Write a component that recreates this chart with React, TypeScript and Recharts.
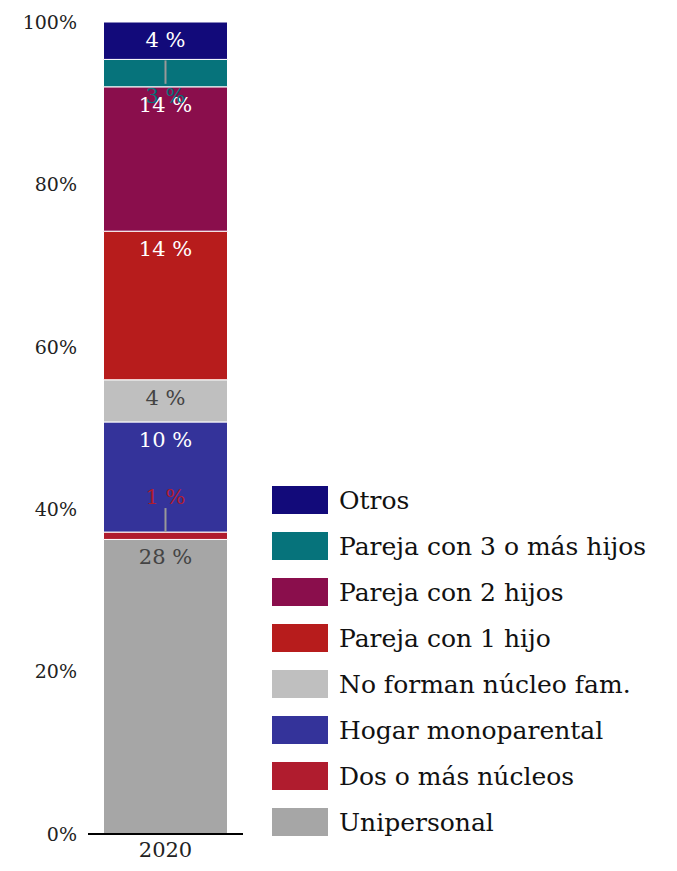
import { Bar, BarChart, XAxis, YAxis } from "recharts";

const categories = ["2020"];
const seriesNames = [
  "Unipersonal",
  "Dos o más núcleos",
  "Hogar monoparental",
  "No forman núcleo fam.",
  "Pareja con 1 hijo",
  "Pareja con 2 hijos",
  "Pareja con 3 o más hijos",
  "Otros",
];
// one value per category, per series (same order as seriesNames)
const values2020 = [27.95, 0.7, 10.45, 4.0, 14.1, 13.7, 2.6, 3.55];
const yTicks = [0, 0.2, 0.4, 0.6, 0.8, 1];

const colors = ["#a6a6a6", "#b01c2e", "#34339a", "#bfbfbf", "#b71c1c", "#8a0e4c", "#06737b", "#120a7a"];
const labelColors = ["#444444", "#b01c2e", "#ffffff", "#444444", "#ffffff", "#ffffff", "#06737b", "#ffffff"];
const labelModes = ["top", "above", "top", "top", "top", "top", "below", "top"];

const FONT = "'DejaVu Serif', serif";

const data = categories.map((c) => {
  const row: Record<string, string | number> = { year: c };
  seriesNames.forEach((s, i) => {
    row[s] = values2020[i];
  });
  return row;
});

function makeLabel(i: number) {
  return (props: any) => {
    const x = Number(props.x);
    const y = Number(props.y);
    const w = Number(props.width);
    const h = Number(props.height);
    const cx = x + w / 2;
    const row = data[Number(props.index) || 0];
    const raw = Number(row[seriesNames[i]]);
    const text = `${Math.round(raw)} %`;
    const common = { x: cx, textAnchor: "middle" as const, fill: labelColors[i], fontFamily: FONT, fontSize: 21 };
    if (labelModes[i] === "above") {
      return (
        <g>
          <line x1={cx} x2={cx} y1={y - 24} y2={y} stroke="#999" strokeWidth={2} />
          <text {...common} y={y - 28}>{text}</text>
        </g>
      );
    }
    if (labelModes[i] === "below") {
      return (
        <g>
          <line x1={cx} x2={cx} y1={y + 1} y2={y + h - 3} stroke="#999" strokeWidth={2} />
          <text {...common} y={y + h + 16}>{text}</text>
        </g>
      );
    }
    return <text {...common} y={y + 25}>{text}</text>;
  };
}

export default function App() {
  return (
    <div style={{ position: "absolute", left: 0, top: 0, width: 677, height: 871, background: "#fff" }}>
      <BarChart
        width={677}
        height={871}
        data={data}
        stackOffset="expand"
        barCategoryGap="10%"
        margin={{ top: 22, right: 434, bottom: 0, left: 0 }}
      >
        <XAxis
          dataKey="year"
          height={37}
          axisLine={{ stroke: "#000", strokeWidth: 2 }}
          tickLine={false}
          tick={{ fill: "#222", fontFamily: FONT, fontSize: 21 }}
        />
        <YAxis
          width={88}
          ticks={yTicks}
          domain={[0, 1]}
          axisLine={false}
          tickLine={false}
          tickMargin={5}
          tickFormatter={(v: number) => `${Math.round(v * 100)}%`}
          tick={{ fill: "#222", fontFamily: FONT, fontSize: 19 }}
        />
        {seriesNames.map((s, i) => (
          <Bar
            key={s}
            dataKey={s}
            stackId="a"
            fill={colors[i]}
            stroke="#fff"
            strokeWidth={1}
            isAnimationActive={false}
            label={makeLabel(i)}
          />
        ))}
      </BarChart>
      <div style={{ position: "absolute", left: 272, top: 486, fontFamily: FONT, fontSize: 25, color: "#111" }}>
        {seriesNames
          .map((s, i) => ({ s, c: colors[i] }))
          .reverse()
          .map(({ s, c }) => (
            <div key={s} style={{ display: "flex", alignItems: "center", height: 46 }}>
              <div style={{ width: 56, height: 28, background: c, marginRight: 11, marginTop: -18 }} />
              <span style={{ marginTop: -18, whiteSpace: "nowrap" }}>{s}</span>
            </div>
          ))}
      </div>
    </div>
  );
}
